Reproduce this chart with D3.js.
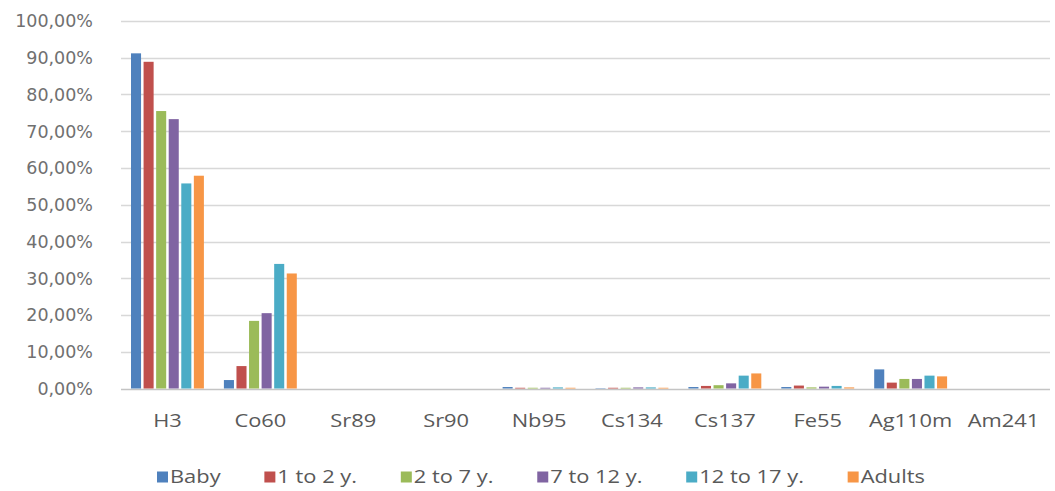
<!DOCTYPE html>
<html>
<head>
<meta charset="utf-8">
<script src="https://cdn.jsdelivr.net/npm/d3@7"></script>
<style>
  html, body { margin: 0; padding: 0; background: #fff; }
  svg { display: block; }
</style>
</head>
<body>
<svg id="chart" width="1055" height="491"></svg>
<script>
// Share of dose per radionuclide, by age group (%)
const nuclides = ["H3", "Co60", "Sr89", "Sr90", "Nb95", "Cs134", "Cs137", "Fe55", "Ag110m", "Am241"];
const groups = ["Baby", "1 to 2 y.", "2 to 7 y.", "7 to 12 y.", "12 to 17 y.", "Adults"];

const baby     = [91.2,  2.3, 0, 0, 0.4, 0.1, 0.4, 0.4, 5.2, 0];
const age1to2  = [88.9,  6.1, 0, 0, 0.2, 0.2, 0.7, 0.8, 1.6, 0];
const age2to7  = [75.5, 18.4, 0, 0, 0.2, 0.2, 0.9, 0.3, 2.6, 0];
const age7to12 = [73.3, 20.5, 0, 0, 0.2, 0.3, 1.4, 0.5, 2.6, 0];
const age12to17= [55.8, 33.9, 0, 0, 0.3, 0.3, 3.5, 0.7, 3.5, 0];
const adults   = [57.9, 31.3, 0, 0, 0.2, 0.2, 4.1, 0.3, 3.3, 0];

const yTicks = [0, 10, 20, 30, 40, 50, 60, 70, 80, 90, 100];
const colors = ["#4F81BD", "#C0504D", "#9BBB59", "#8064A2", "#4BACC6", "#F79646"];

const seriesValues = [baby, age1to2, age2to7, age7to12, age12to17, adults];

const svg = d3.select("#chart");
const plotLeft = 121, plotRight = 1050, plotTop = 21, plotBottom = 388.5;
const textColor = "#595959";
const labelFont = "'Open Sans', 'DejaVu Sans', sans-serif";

const x0 = d3.scaleBand().domain(nuclides).range([plotLeft, plotRight]).padding(0);
const x1 = d3.scaleBand().domain(groups).range([10, x0.bandwidth() - 10]).paddingInner(0.2);
const y = d3.scaleLinear().domain([0, 100]).range([plotBottom, plotTop]);
const color = d3.scaleOrdinal().domain(groups).range(colors);

// horizontal gridlines
svg.append("g")
  .selectAll("line")
  .data(yTicks)
  .join("line")
  .attr("x1", plotLeft)
  .attr("x2", plotRight)
  .attr("y1", d => Math.round(y(d)) + 0.5)
  .attr("y2", d => Math.round(y(d)) + 0.5)
  .attr("stroke", d => d === 0 ? "#c4c4c4" : "#d8d8d8")
  .attr("stroke-width", 1.5);

// y axis labels
const fmt = d => d.toFixed(2).replace(".", ",") + "%";
svg.append("g")
  .selectAll("text")
  .data(yTicks)
  .join("text")
  .attr("x", 93)
  .attr("y", d => y(d))
  .attr("dy", "0.36em")
  .attr("text-anchor", "end")
  .attr("font-family", "'DejaVu Sans', Verdana, sans-serif")
  .attr("font-size", 17.5)
  .attr("fill", "#707070")
  .text(fmt);

// bars
const cat = svg.append("g")
  .selectAll("g")
  .data(nuclides)
  .join("g")
  .attr("transform", d => `translate(${x0(d)},0)`);

cat.selectAll("rect")
  .data((d, i) => groups.map((g, s) => ({ group: g, value: seriesValues[s][i] })))
  .join("rect")
  .attr("x", d => x1(d.group))
  .attr("width", x1.bandwidth())
  .attr("y", d => y(d.value))
  .attr("height", d => y(0) - y(d.value))
  .attr("fill", d => color(d.group));

// category labels, drawn slightly widened
const sx = 1.25;
svg.append("g")
  .selectAll("g")
  .data(nuclides)
  .join("g")
  .attr("transform", d => `translate(${x0(d) + x0.bandwidth() / 2},427)`)
  .append("text")
  .attr("transform", `scale(${sx},1)`)
  .attr("text-anchor", "middle")
  .attr("font-family", labelFont)
  .attr("font-size", 17.5)
  .attr("fill", textColor)
  .text(d => d);

// legend: swatch + label, spread between the first and last entry
const legend = svg.append("g");
const ly = 477, legendStart = 157, legendEnd = 925;
const items = groups.map(g => {
  const holder = legend.append("g");
  const t = holder.append("text")
    .attr("transform", `scale(${sx},1)`)
    .attr("dy", "0.36em")
    .attr("font-family", labelFont)
    .attr("font-size", 17.5)
    .attr("fill", textColor)
    .text(g);
  return { g, holder, w: t.node().getComputedTextLength() * sx };
});
const used = d3.sum(items, d => 13 + d.w);
const gap = (legendEnd - legendStart - used) / (items.length - 1);
let lx = legendStart;
items.forEach(d => {
  legend.append("rect")
    .attr("x", lx)
    .attr("y", ly - 5.5)
    .attr("width", 11)
    .attr("height", 11)
    .attr("fill", color(d.g));
  d.holder.attr("transform", `translate(${lx + 13},${ly})`);
  lx += 13 + d.w + gap;
});
</script>
</body>
</html>
